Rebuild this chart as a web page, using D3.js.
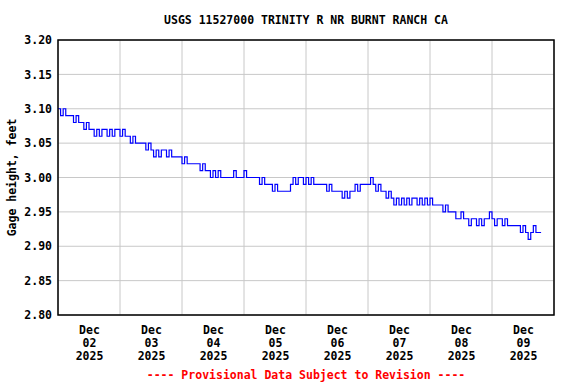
<!DOCTYPE html>
<meta charset="utf-8">
<style>
body { margin: 0; background: #fff; }
text { font-family: "DejaVu Sans Mono", monospace; font-weight: bold; font-size: 11.5px; }
</style>
<body>
<script src="https://d3js.org/d3.v7.min.js"></script>
<script>

// hourly gage height readings, feet, starting Dec 02 2025 00:00
var startTime = Date.UTC(2025, 11, 2, 0, 0);
var gageFeet = [
  3.10,3.09,3.10,3.09,3.09,3.09,3.08,3.09,3.08,3.08,3.07,3.08,3.07,3.07,
  3.06,3.07,3.06,3.07,3.07,3.06,3.07,3.06,3.07,3.07,3.06,3.07,
  3.06,3.06,3.05,3.06,3.05,3.05,3.05,3.05,3.04,3.05,3.04,
  3.03,3.04,3.03,3.04,3.04,3.03,3.04,3.03,3.03,3.03,3.03,
  3.02,3.03,3.02,3.02,3.02,3.02,3.02,3.01,3.02,3.01,3.01,
  3.00,3.01,3.00,3.01,3.00,3.00,3.00,3.00,3.00,3.01,3.00,3.00,3.00,3.01,
  3.00,3.00,3.00,3.00,3.00,2.99,3.00,2.99,2.99,2.99,2.98,2.99,2.98,2.98,2.98,2.98,2.98,2.99,
  3.00,2.99,3.00,3.00,2.99,3.00,2.99,3.00,2.99,
  2.99,2.99,2.99,2.99,2.98,2.99,2.98,2.98,2.98,2.98,2.97,2.98,2.97,2.98,2.98,
  2.99,2.98,2.99,2.99,2.99,2.99,3.00,2.99,2.98,2.99,2.98,2.98,2.97,2.98,2.97,
  2.96,2.97,2.96,2.97,2.96,2.97,2.96,2.97,2.97,2.96,2.97,2.96,2.97,2.96,2.97,2.96,2.96,2.96,2.96,
  2.95,2.96,2.95,2.95,2.95,2.94,2.94,2.95,2.94,2.94,
  2.93,2.94,2.94,2.93,2.94,2.93,2.94,2.94,2.95,2.94,2.93,2.94,2.94,2.93,2.94,2.93,2.93,
  2.93,2.93,2.93,2.92,2.93,2.92,2.91,2.92,2.93,2.92,2.92,2.92
];

var yTicks = [2.80, 2.85, 2.90, 2.95, 3.00, 3.05, 3.10, 3.15, 3.20];
var dayLabels = ["02", "03", "04", "05", "06", "07", "08", "09"];

var width = 576, height = 384;
var plot = {left: 58, right: 554, top: 40, bottom: 315};

var svg = d3.select("body").append("svg")
    .attr("width", width)
    .attr("height", height);

var x = d3.scaleUtc()
    .domain([new Date(startTime), new Date(Date.UTC(2025, 11, 10))])
    .range([plot.left, plot.right]);

var y = d3.scaleLinear()
    .domain([2.80, 3.20])
    .range([plot.bottom, plot.top]);

var data = gageFeet.map(function(v, i) {
  return {t: new Date(startTime + i * 3600000), v: v};
});

// grid
svg.append("g").selectAll("line.h")
    .data(yTicks)
  .enter().append("line")
    .attr("x1", plot.left).attr("x2", plot.right)
    .attr("y1", function(d) { return y(d); })
    .attr("y2", function(d) { return y(d); })
    .style("stroke", "#c8c8c8").style("stroke-width", 1);

svg.append("g").selectAll("line.v")
    .data(x.ticks(d3.utcDay))
  .enter().append("line")
    .attr("x1", function(d) { return x(d); })
    .attr("x2", function(d) { return x(d); })
    .attr("y1", plot.top).attr("y2", plot.bottom)
    .style("stroke", "#c8c8c8").style("stroke-width", 1);

// data line
var line = d3.line()
    .x(function(d) { return x(d.t); })
    .y(function(d) { return y(d.v); })
    .curve(d3.curveStepAfter);

svg.append("path")
    .datum(data)
    .attr("d", line)
    .style("fill", "none")
    .style("stroke", "#0000ff")
    .style("stroke-width", 1.2);

// frame
svg.append("rect")
    .attr("x", plot.left).attr("y", plot.top)
    .attr("width", plot.right - plot.left)
    .attr("height", plot.bottom - plot.top)
    .style("fill", "none").style("stroke", "#000").style("stroke-width", 1.5);

// y axis
var yAxis = svg.append("g")
    .attr("transform", "translate(" + plot.left + ",0)")
    .call(d3.axisLeft(y).tickValues(yTicks).tickSize(0).tickPadding(6)
      .tickFormat(d3.format(".2f")));
yAxis.select(".domain").remove();
yAxis.selectAll("text")
    .style("font-family", "DejaVu Sans Mono, monospace")
    .style("font-weight", "bold").style("font-size", "11.5px").attr("fill", "#000");

// x axis, labels at noon of each day
var noons = dayLabels.map(function(d, i) { return new Date(startTime + (i * 24 + 12) * 3600000); });
var xAxis = svg.append("g")
    .attr("transform", "translate(0," + plot.bottom + ")")
    .call(d3.axisBottom(x).tickValues(noons).tickSize(0).tickFormat(""));
xAxis.select(".domain").remove();
xAxis.selectAll(".tick").each(function(d, i) {
  var t = d3.select(this).append("text")
      .attr("fill", "#000")
      .attr("text-anchor", "middle");
  ["Dec", dayLabels[i], "2025"].forEach(function(s, k) {
    t.append("tspan").attr("x", 0).attr("y", 19 + k * 13).text(s);
  });
});

// y label
svg.append("text")
    .attr("transform", "translate(16," + ((plot.top + plot.bottom) / 2) + ") rotate(-90)")
    .attr("text-anchor", "middle")
    .text("Gage height, feet");

// title
svg.append("text")
    .attr("x", (plot.left + plot.right) / 2).attr("y", 24)
    .attr("text-anchor", "middle")
    .text("USGS 11527000 TRINITY R NR BURNT RANCH CA");

// footer
svg.append("text")
    .attr("x", (plot.left + plot.right) / 2).attr("y", 379)
    .attr("text-anchor", "middle")
    .attr("fill", "#ff0000")
    .text("---- Provisional Data Subject to Revision ----");

</script>
</body>
